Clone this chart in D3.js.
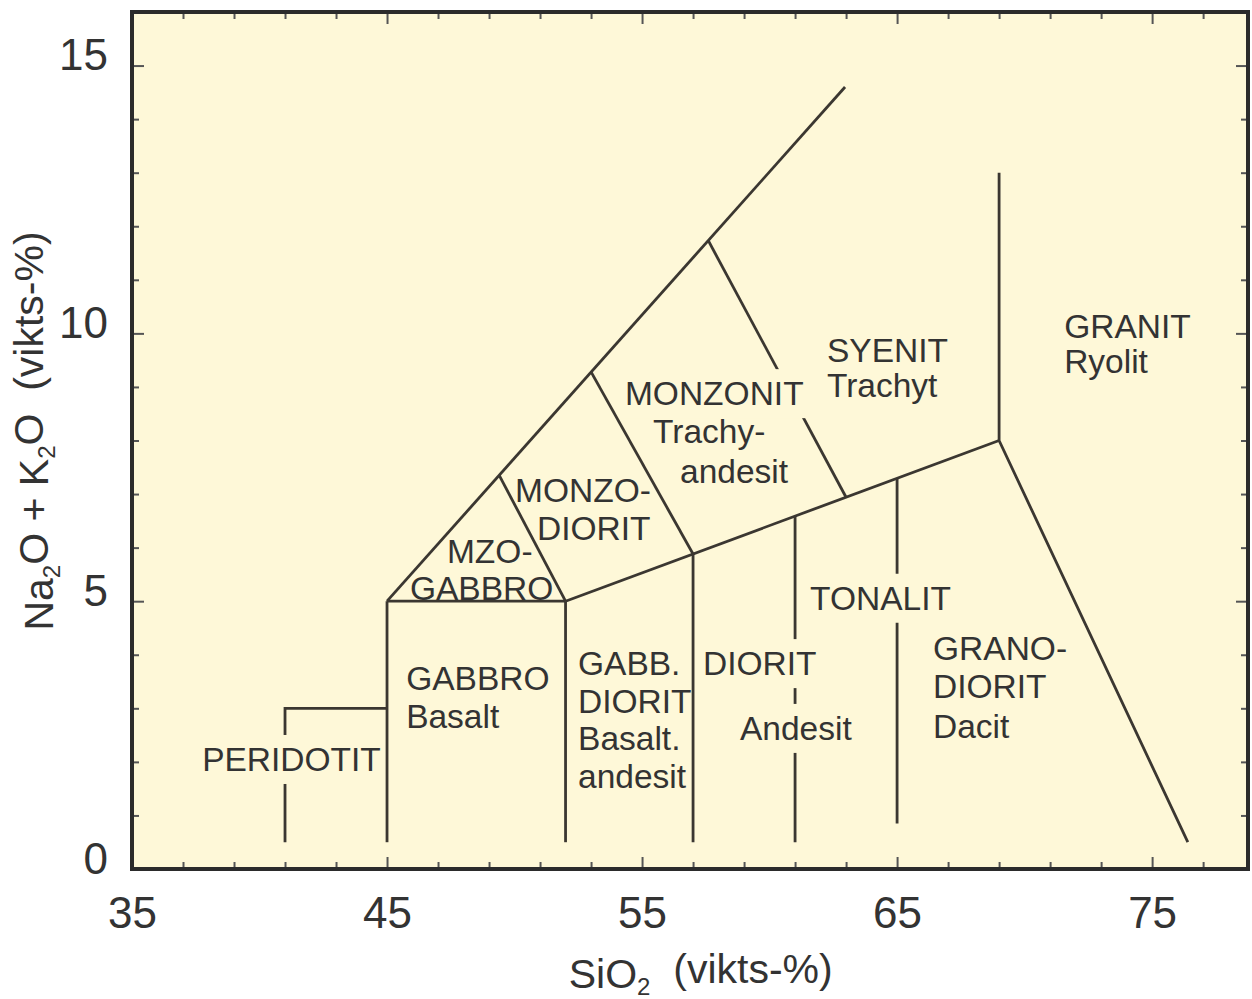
<!DOCTYPE html>
<html>
<head>
<meta charset="utf-8">
<script src="https://cdn.jsdelivr.net/npm/d3@7"></script>
<style>
  body { margin: 0; background: #fff; }
  svg text { font-family: "Liberation Sans", Arial, sans-serif; }
</style>
</head>
<body>
<div id="chart"></div>
<script>
// field boundaries, [SiO2, Na2O+K2O]
var boundaries = [
    [[41, 0.5], [41, 3], [45, 3]],
    [[45, 0.5], [45, 5]],
    [[45, 5], [52, 5]],
    [[52, 0.5], [52, 5]],
    [[52, 5], [69, 8]],
    [[57, 0.5], [57, 5.88]],
    [[61, 0.5], [61, 6.59]],
    [[65, 0.85], [65, 7.29]],
    [[69, 13], [69, 8], [76.4, 0.5]],
    [[45, 5], [62.96, 14.6]],
    [[49.4, 7.35], [52, 5]],
    [[53, 9.28], [57, 5.88]],
    [[57.6, 11.73], [63, 6.94]]
];

// rock names, one entry per text line (left edge, baseline) in data units
var labelText = ["PERIDOTIT", "GABBRO", "Basalt", "MZO-", "GABBRO", "MONZO-", "DIORIT",
    "MONZONIT", "Trachy-", "andesit", "SYENIT", "Trachyt", "GRANIT", "Ryolit",
    "GABB.", "DIORIT", "Basalt.", "andesit", "DIORIT", "Andesit", "TONALIT",
    "GRANO-", "DIORIT", "Dacit"];
var labelSiO2 = [37.75, 45.75, 45.75, 47.35, 45.9, 50.02, 50.88,
    54.33, 55.43, 56.49, 62.25, 62.25, 71.55, 71.55,
    52.49, 52.49, 52.49, 52.49, 57.39, 58.84, 61.59,
    66.41, 66.41, 66.41];
var labelAlk = [1.83, 3.34, 2.63, 5.71, 5.02, 6.85, 6.14,
    8.66, 7.95, 7.21, 9.47, 8.81, 9.91, 9.26,
    3.62, 2.91, 2.22, 1.51, 3.62, 2.41, 4.84,
    3.90, 3.19, 2.45];
// labels that blank out the line behind them
var labelMasked = [true, false, false, false, false, false, false,
    true, false, false, false, false, false, false,
    false, false, false, false, true, true, true,
    false, false, false];

var xMajor = [35, 45, 55, 65, 75];
var yMajor = [0, 5, 10, 15];

var W = 1252, H = 999;
var margin = { top: 12, left: 132 },
    width = 1116,
    height = 857;

var svg = d3.select("#chart").append("svg")
    .attr("width", W)
    .attr("height", H);

var x = d3.scaleLinear().domain([35, 78.76]).range([0, width]),
    y = d3.scaleLinear().domain([0, 16]).range([height, 0]);

var g = svg.append("g")
    .attr("transform", "translate(" + margin.left + "," + margin.top + ")");

g.append("rect")
    .attr("width", width)
    .attr("height", height)
    .attr("fill", "#fef8d8");

var xMinor = d3.range(37, 79, 2).filter(function(d) { return xMajor.indexOf(d) < 0; });
var yMinor = d3.range(1, 16).filter(function(d) { return yMajor.indexOf(d) < 0; });

function styleTicks(sel) {
    sel.select(".domain").remove();
    sel.selectAll("line").attr("stroke", "#555").attr("stroke-width", 2);
    sel.selectAll("text").attr("fill", "#333").style("font-size", "44px");
}

// bottom
g.append("g").attr("transform", "translate(0," + height + ")")
    .call(d3.axisBottom(x).tickValues(xMinor).tickSize(-7).tickFormat(""))
    .call(styleTicks);
g.append("g").attr("transform", "translate(0," + height + ")")
    .call(d3.axisBottom(x).tickValues(xMajor).tickSize(-12).tickPadding(28).tickFormat(d3.format("d")))
    .call(styleTicks);
// top
g.append("g")
    .call(d3.axisTop(x).tickValues(xMinor).tickSize(-7).tickFormat(""))
    .call(styleTicks);
g.append("g")
    .call(d3.axisTop(x).tickValues(xMajor).tickSize(-12).tickFormat(""))
    .call(styleTicks);
// left
g.append("g")
    .call(d3.axisLeft(y).tickValues(yMinor).tickSize(-7).tickFormat(""))
    .call(styleTicks);
g.append("g")
    .call(d3.axisLeft(y).tickValues(yMajor).tickSize(-12).tickPadding(24).tickFormat(d3.format("d")))
    .call(styleTicks)
    .selectAll("text").attr("dy", "0.1em");
// right
g.append("g").attr("transform", "translate(" + width + ",0)")
    .call(d3.axisRight(y).tickValues(yMinor).tickSize(-7).tickFormat(""))
    .call(styleTicks);
g.append("g").attr("transform", "translate(" + width + ",0)")
    .call(d3.axisRight(y).tickValues(yMajor).tickSize(-12).tickFormat(""))
    .call(styleTicks);

var line = d3.line()
    .x(function(d) { return x(d[0]); })
    .y(function(d) { return y(d[1]); });

g.selectAll(".boundary")
    .data(boundaries)
    .enter().append("path")
    .attr("class", "boundary")
    .attr("d", line)
    .attr("fill", "none")
    .attr("stroke", "#3b3731")
    .attr("stroke-width", 2.8)
    .attr("stroke-linejoin", "miter");

var labels = labelText.map(function(t, i) {
    return { text: t, sx: labelSiO2[i], al: labelAlk[i], masked: labelMasked[i] };
});

var lab = g.selectAll(".lab")
    .data(labels)
    .enter().append("g")
    .attr("class", "lab");

lab.append("text")
    .attr("x", function(d) { return x(d.sx); })
    .attr("y", function(d) { return y(d.al); })
    .attr("fill", "#333")
    .style("font-size", "33.5px")
    .text(function(d) { return d.text; });

// background boxes behind the masked names
lab.filter(function(d) { return d.masked; }).each(function() {
    var t = d3.select(this).select("text");
    var b = t.node().getBBox();
    d3.select(this).insert("rect", "text")
        .attr("x", b.x - 4)
        .attr("y", b.y - 6)
        .attr("width", b.width + 8)
        .attr("height", b.height + 12)
        .attr("fill", "#fef8d8");
});

// frame
g.append("rect")
    .attr("width", width)
    .attr("height", height)
    .attr("fill", "none")
    .attr("stroke", "#2b2b2b")
    .attr("stroke-width", 4);

// axis titles
var xt = svg.append("text")
    .attr("x", margin.left + x(57.3))
    .attr("y", 988)
    .attr("text-anchor", "middle")
    .attr("fill", "#333")
    .style("font-size", "41px")
    .style("white-space", "pre");
xt.append("tspan").text("SiO");
xt.append("tspan").attr("dy", "0.3em").style("font-size", "24px").text("2");
xt.append("tspan").attr("dy", "-0.3em").text("  (vikts-%)");

var yt = svg.append("text")
    .attr("transform", "translate(53,431) rotate(-90)")
    .attr("text-anchor", "middle")
    .attr("fill", "#333")
    .style("font-size", "41px")
    .style("white-space", "pre");
yt.append("tspan").text("Na");
yt.append("tspan").attr("dy", "0.3em").style("font-size", "24px").text("2");
yt.append("tspan").attr("dy", "-0.3em").text("O + K");
yt.append("tspan").attr("dy", "0.3em").style("font-size", "24px").text("2");
yt.append("tspan").attr("dy", "-0.3em").text("O  (vikts-%)");
</script>
</body>
</html>
